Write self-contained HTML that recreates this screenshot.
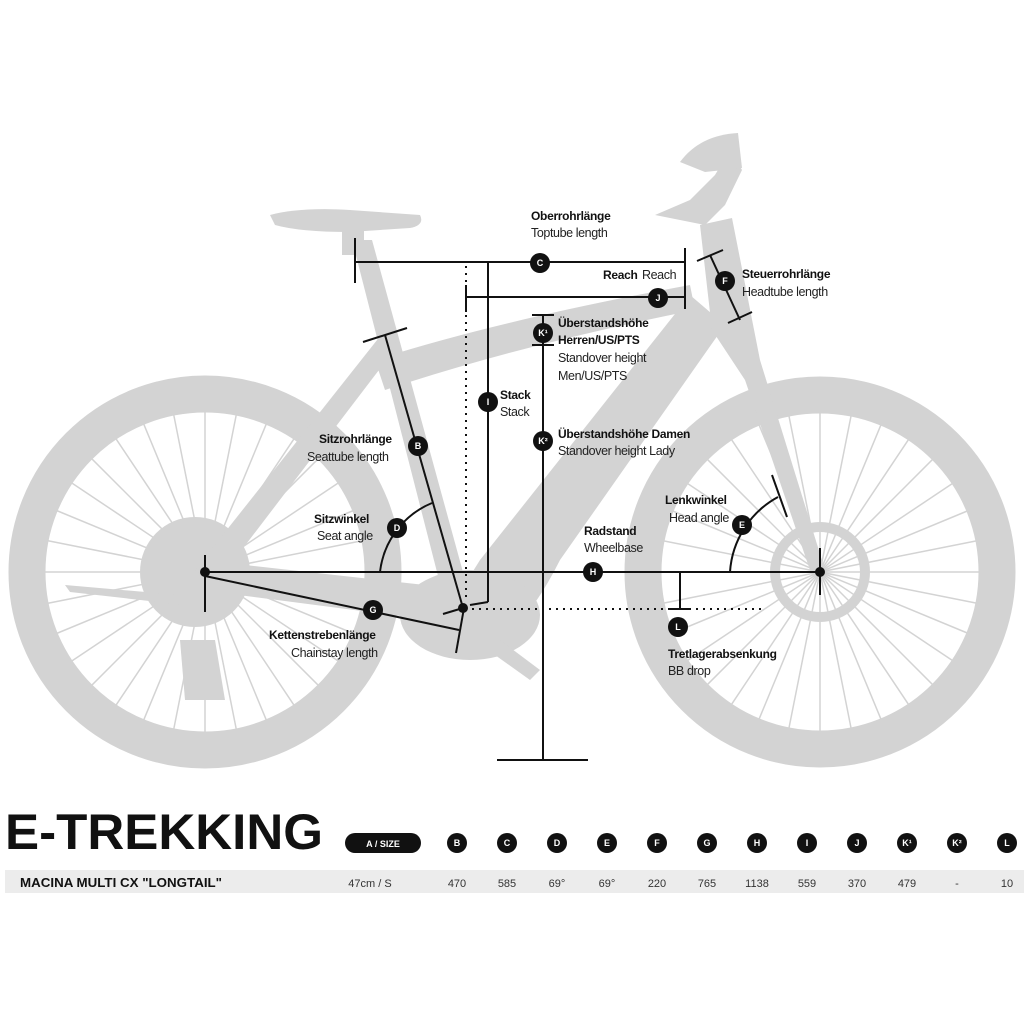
<!DOCTYPE html>
<html><head><meta charset="utf-8"><style>
html,body{margin:0;padding:0;background:#fff;}
svg{display:block}
.b{font-family:"Liberation Sans Narrow","Liberation Sans",sans-serif;font-weight:bold;font-size:12px;letter-spacing:-0.3px;fill:#111}
.n{font-family:"Liberation Sans Narrow","Liberation Sans",sans-serif;font-size:12.5px;letter-spacing:-0.4px;fill:#222}
.c{font-family:"Liberation Sans",sans-serif;font-weight:bold;font-size:9px;fill:#fff}
.t{font-family:"Liberation Sans Narrow","Liberation Sans",sans-serif;font-size:11px;fill:#333}
</style></head><body>
<svg width="1024" height="1024" viewBox="0 0 1024 1024" xmlns="http://www.w3.org/2000/svg">
<rect width="1024" height="1024" fill="#fff"/>
<defs>
<g id="sp" stroke="#d3d3d3" stroke-width="1.5">
<line x1="-162" y1="0" x2="162" y2="0"/>
<line x1="-162" y1="0" x2="162" y2="0" transform="rotate(11.25)"/>
<line x1="-162" y1="0" x2="162" y2="0" transform="rotate(22.5)"/>
<line x1="-162" y1="0" x2="162" y2="0" transform="rotate(33.75)"/>
<line x1="-162" y1="0" x2="162" y2="0" transform="rotate(45)"/>
<line x1="-162" y1="0" x2="162" y2="0" transform="rotate(56.25)"/>
<line x1="-162" y1="0" x2="162" y2="0" transform="rotate(67.5)"/>
<line x1="-162" y1="0" x2="162" y2="0" transform="rotate(78.75)"/>
<line x1="-162" y1="0" x2="162" y2="0" transform="rotate(90)"/>
<line x1="-162" y1="0" x2="162" y2="0" transform="rotate(101.25)"/>
<line x1="-162" y1="0" x2="162" y2="0" transform="rotate(112.5)"/>
<line x1="-162" y1="0" x2="162" y2="0" transform="rotate(123.75)"/>
<line x1="-162" y1="0" x2="162" y2="0" transform="rotate(135)"/>
<line x1="-162" y1="0" x2="162" y2="0" transform="rotate(146.25)"/>
<line x1="-162" y1="0" x2="162" y2="0" transform="rotate(157.5)"/>
<line x1="-162" y1="0" x2="162" y2="0" transform="rotate(168.75)"/>
</g>
</defs>
<g fill="#d3d3d3" stroke="none">
<circle cx="205" cy="572" r="178" fill="none" stroke="#d3d3d3" stroke-width="37"/>
<circle cx="820" cy="572" r="177" fill="none" stroke="#d3d3d3" stroke-width="37"/>
<use href="#sp" x="205" y="572"/>
<use href="#sp" x="820" y="572"/>
<circle cx="195" cy="572" r="55"/>
<circle cx="820" cy="572" r="45" fill="none" stroke="#d3d3d3" stroke-width="10"/>
<path d="M65 585 L180 595 L185 605 L70 592 Z"/>
<path d="M180 640 L215 640 L225 700 L185 700 Z"/>
<path d="M270 215 Q300 207 350 210 L420 215 Q425 225 410 228 L350 232 Q300 232 275 225 Z"/>
<rect x="342" y="225" width="22" height="30"/>
<path d="M352 240 L372 240 L472 605 L448 615 Z"/>
<path d="M385 330 L398 345 L215 585 L195 570 Z"/>
<path d="M375 360 Q500 320 690 285 L695 310 Q520 345 385 390 Z"/>
<path d="M690 295 L725 325 L560 560 Q520 640 470 660 L430 640 L480 560 Z"/>
<path d="M200 560 L470 590 L470 625 L200 590 Z"/>
<ellipse cx="470" cy="615" rx="70" ry="45"/>
<path d="M500 640 L540 670 L530 680 L495 655 Z"/>
<path d="M700 225 L732 218 L760 360 L825 570 L812 576 L745 380 L712 330 Z"/>
<path d="M655 215 L690 200 L715 175 L730 150 L742 170 L725 205 L705 225 Z"/>
<path d="M680 162 Q700 135 738 133 L742 168 L705 172 Z"/>
</g>
<g stroke="#111" stroke-width="2" fill="none">
<line x1="355" y1="262" x2="685" y2="262"/>
<line x1="355" y1="238" x2="355" y2="283"/>
<line x1="685" y1="248" x2="685" y2="309"/>
<line x1="466" y1="297" x2="685" y2="297"/>
<line x1="466" y1="285" x2="466" y2="312"/>
<line x1="488" y1="262" x2="488" y2="602"/>
<line x1="488" y1="602" x2="470" y2="605"/>
<line x1="543" y1="315" x2="543" y2="760"/>
<line x1="532" y1="315" x2="554" y2="315"/>
<line x1="532" y1="345" x2="554" y2="345"/>
<line x1="497" y1="760" x2="588" y2="760"/>
<line x1="363" y1="342" x2="407" y2="328"/>
<line x1="385" y1="335" x2="463" y2="608"/>
<line x1="205" y1="572" x2="820" y2="572"/>
<line x1="205" y1="555" x2="205" y2="612"/>
<line x1="820" y1="548" x2="820" y2="595"/>
<line x1="205" y1="576" x2="459" y2="630"/>
<line x1="456" y1="653" x2="464" y2="608"/>
<line x1="443" y1="614" x2="463" y2="608"/>
<line x1="680" y1="572" x2="680" y2="609"/>
<line x1="670" y1="609" x2="690" y2="609"/>
<line x1="710" y1="255" x2="740" y2="320"/>
<line x1="697" y1="261" x2="723" y2="250"/>
<line x1="728" y1="323" x2="752" y2="312"/>
<path d="M380 572 A85 85 0 0 1 432 503"/>
<path d="M730 572 A92 92 0 0 1 778 497"/>
<line x1="772" y1="475" x2="787" y2="517"/>
</g>
<g stroke="#111" stroke-width="2" stroke-dasharray="2 5" fill="none">
<line x1="466" y1="266" x2="466" y2="600"/>
<line x1="472" y1="609" x2="765" y2="609"/>
</g>
<g fill="#111">
<circle cx="205" cy="572" r="5"/><circle cx="820" cy="572" r="5"/><circle cx="463" cy="608" r="5"/>
<circle cx="540" cy="263" r="10"/><circle cx="658" cy="298" r="10"/><circle cx="488" cy="402" r="10"/>
<circle cx="543" cy="333" r="10"/><circle cx="543" cy="441" r="10"/><circle cx="418" cy="446" r="10"/>
<circle cx="397" cy="528" r="10"/><circle cx="373" cy="610" r="10"/><circle cx="593" cy="572" r="10"/>
<circle cx="678" cy="627" r="10"/><circle cx="725" cy="281" r="10"/><circle cx="742" cy="525" r="10"/>
</g>
<g class="c" text-anchor="middle">
<text x="540" y="266">C</text><text x="658" y="301">J</text><text x="488" y="405">I</text>
<text x="543" y="336">K¹</text><text x="543" y="444">K²</text><text x="418" y="449">B</text>
<text x="397" y="531">D</text><text x="373" y="613">G</text><text x="593" y="575">H</text>
<text x="678" y="630">L</text><text x="725" y="284">F</text><text x="742" y="528">E</text>
</g>
<text class="b" x="531" y="220">Oberrohrlänge</text><text class="n" x="531" y="237">Toptube length</text>
<text class="b" x="603" y="279">Reach</text><text class="n" x="642" y="279">Reach</text>
<text class="b" x="558" y="327">Überstandshöhe</text><text class="b" x="558" y="344">Herren/US/PTS</text>
<text class="n" x="558" y="362">Standover height</text><text class="n" x="558" y="380">Men/US/PTS</text>
<text class="b" x="500" y="399">Stack</text><text class="n" x="500" y="416">Stack</text>
<text class="b" x="558" y="438">Überstandshöhe Damen</text><text class="n" x="558" y="455">Standover height Lady</text>
<text class="b" x="742" y="278">Steuerrohrlänge</text><text class="n" x="742" y="296">Headtube length</text>
<text class="b" x="319" y="443">Sitzrohrlänge</text><text class="n" x="307" y="461">Seattube length</text>
<text class="b" x="314" y="523">Sitzwinkel</text><text class="n" x="317" y="540">Seat angle</text>
<text class="b" x="584" y="535">Radstand</text><text class="n" x="584" y="552">Wheelbase</text>
<text class="b" x="665" y="504">Lenkwinkel</text><text class="n" x="669" y="522">Head angle</text>
<text class="b" x="269" y="639">Kettenstrebenlänge</text><text class="n" x="291" y="657">Chainstay length</text>
<text class="b" x="668" y="658">Tretlagerabsenkung</text><text class="n" x="668" y="675">BB drop</text>
<text x="5" y="849" font-family="Liberation Sans Narrow,Liberation Sans,sans-serif" font-weight="bold" font-size="50" fill="#111" textLength="318" lengthAdjust="spacingAndGlyphs">E-TREKKING</text>
<rect x="345" y="833" width="76" height="20" rx="10" fill="#111"/>
<text class="c" x="383" y="847" text-anchor="middle">A / SIZE</text>
<g fill="#111">
<circle cx="457" cy="843" r="10"/><circle cx="507" cy="843" r="10"/><circle cx="557" cy="843" r="10"/><circle cx="607" cy="843" r="10"/><circle cx="657" cy="843" r="10"/><circle cx="707" cy="843" r="10"/><circle cx="757" cy="843" r="10"/><circle cx="807" cy="843" r="10"/><circle cx="857" cy="843" r="10"/><circle cx="907" cy="843" r="10"/><circle cx="957" cy="843" r="10"/><circle cx="1007" cy="843" r="10"/>
</g>
<g class="c" text-anchor="middle">
<text x="457" y="846">B</text><text x="507" y="846">C</text><text x="557" y="846">D</text><text x="607" y="846">E</text><text x="657" y="846">F</text><text x="707" y="846">G</text><text x="757" y="846">H</text><text x="807" y="846">I</text><text x="857" y="846">J</text><text x="907" y="846">K¹</text><text x="957" y="846">K²</text><text x="1007" y="846">L</text>
</g>
<rect x="5" y="870" width="1019" height="23" fill="#ececec"/>
<text x="20" y="887" font-family="Liberation Sans Narrow,Liberation Sans,sans-serif" font-weight="bold" font-size="13" fill="#111" textLength="202" lengthAdjust="spacingAndGlyphs">MACINA MULTI CX "LONGTAIL"</text>
<g class="t" text-anchor="middle">
<text x="370" y="887">47cm / S</text><text x="457" y="887">470</text><text x="507" y="887">585</text><text x="557" y="887">69°</text><text x="607" y="887">69°</text><text x="657" y="887">220</text><text x="707" y="887">765</text><text x="757" y="887">1138</text><text x="807" y="887">559</text><text x="857" y="887">370</text><text x="907" y="887">479</text><text x="957" y="887">-</text><text x="1007" y="887">10</text>
</g>
</svg>
</body></html>
